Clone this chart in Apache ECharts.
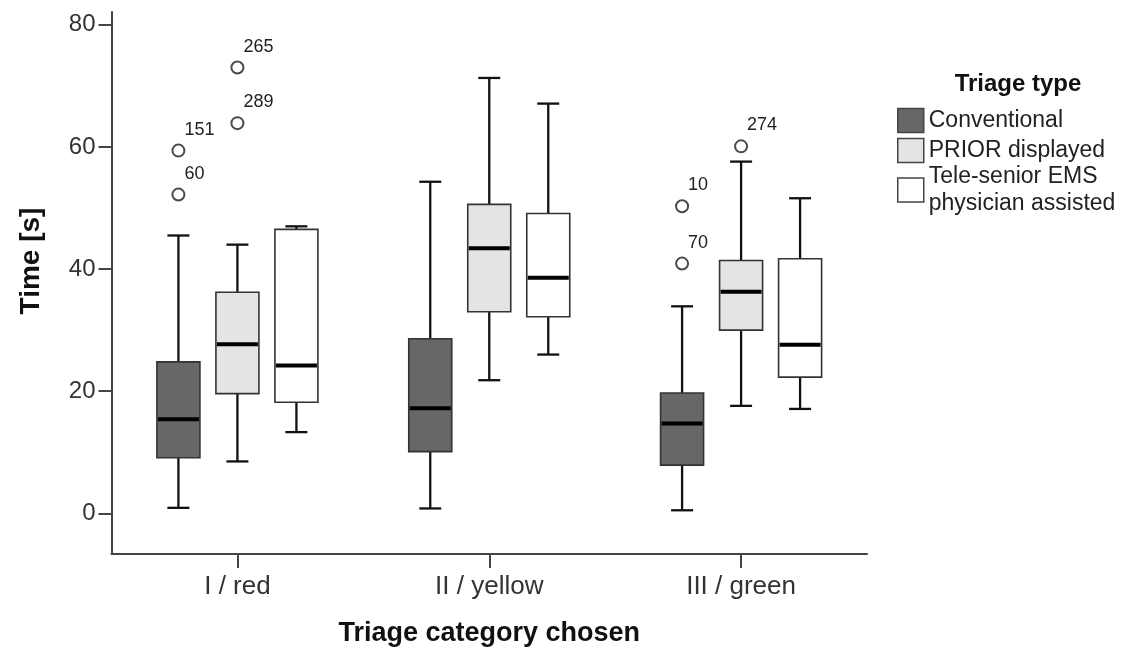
<!DOCTYPE html>
<html>
<head>
<meta charset="utf-8">
<script src="https://cdn.jsdelivr.net/npm/echarts@6/dist/echarts.min.js"></script>
<style>
html,body{margin:0;padding:0;background:#fff;}
#chart{width:1144px;height:655px;}
</style>
</head>
<body>
<div id="chart"></div>
<script>
// ---- data ----
const categories = ['I / red', 'II / yellow', 'III / green'];
const seriesNames = ['Conventional', 'PRIOR displayed', 'Tele-senior EMS physician assisted'];
// [min, Q1, median, Q3, max]
const conventional = [
  [0.9, 9.1, 15.4, 24.8, 45.5],
  [0.8, 10.1, 17.2, 28.6, 54.3],
  [0.5, 7.9, 14.7, 19.7, 33.9]
];
const prior = [
  [8.5, 19.6, 27.7, 36.2, 44.0],
  [21.8, 33.0, 43.4, 50.6, 71.3],
  [17.6, 30.0, 36.3, 41.4, 57.6]
];
const tele = [
  [13.3, 18.2, 24.2, 46.5, 47.0],
  [26.0, 32.2, 38.6, 49.1, 67.1],
  [17.1, 22.3, 27.6, 41.7, 51.6]
];
// [category index, value, case label]
const conventionalOutliers = [[0, 59.4, '151'], [0, 52.2, '60'], [2, 50.3, '10'], [2, 40.9, '70']];
const priorOutliers = [[0, 73.0, '265'], [0, 63.9, '289'], [2, 60.1, '274']];
const yTicks = [0, 20, 40, 60, 80];

// ---- styles ----
const FONT = 'Liberation Sans, Arial, sans-serif';
const fills = ['#676767', '#e4e4e4', '#ffffff'];
const offsets = [-59, 0, 59];
const BOX_W = 43, CAP_W = 22;

function boxRender(k) {
  return function (params, api) {
    const idx = api.value(0);
    const cx = api.coord([idx, 0])[0] + offsets[k];
    const y = i => api.coord([idx, api.value(i)])[1];
    const yMin = y(1), yQ1 = y(2), yMed = y(3), yQ3 = y(4), yMax = y(5);
    const hw = BOX_W / 2, cw = CAP_W / 2;
    const wl = {stroke: '#111', lineWidth: 2.3};
    return {
      type: 'group',
      children: [
        {type: 'line', shape: {x1: cx, y1: yMax, x2: cx, y2: yQ3}, style: wl},
        {type: 'line', shape: {x1: cx, y1: yQ1, x2: cx, y2: yMin}, style: wl},
        {type: 'line', shape: {x1: cx - cw, y1: yMax, x2: cx + cw, y2: yMax}, style: wl},
        {type: 'line', shape: {x1: cx - cw, y1: yMin, x2: cx + cw, y2: yMin}, style: wl},
        {type: 'rect', shape: {x: cx - hw, y: yQ3, width: 2 * hw, height: yQ1 - yQ3},
          style: {fill: fills[k], stroke: '#333', lineWidth: 1.6}},
        {type: 'line', shape: {x1: cx - hw + 1, y1: yMed, x2: cx + hw - 1, y2: yMed},
          style: {stroke: '#000', lineWidth: 4}}
      ]
    };
  };
}

function outlierRender(k, list) {
  return function (params, api) {
    const idx = api.value(0);
    const p = api.coord([idx, api.value(1)]);
    const cx = p[0] + offsets[k], cy = p[1];
    const label = list[params.dataIndex][2];
    return {
      type: 'group',
      children: [
        {type: 'circle', shape: {cx: cx, cy: cy, r: 6},
          style: {fill: '#fff', stroke: '#4a4a4a', lineWidth: 2}},
        {type: 'text', style: {text: label, x: cx + 6, y: cy - 21,
          align: 'left', verticalAlign: 'middle', textAlign: 'left', textVerticalAlign: 'middle',
          font: '18px ' + FONT, fill: '#222'}}
      ]
    };
  };
}

const boxData = [conventional, prior, tele];
const series = boxData.map((arr, k) => ({
  type: 'custom',
  name: seriesNames[k],
  renderItem: boxRender(k),
  encode: {x: 0, y: [1, 2, 3, 4, 5]},
  itemStyle: {color: fills[k], borderColor: '#444'},
  data: arr.map((d, i) => [i].concat(d)),
  z: 2
}));
series.push({
  type: 'custom', name: seriesNames[0], renderItem: outlierRender(0, conventionalOutliers),
  encode: {x: 0, y: 1}, data: conventionalOutliers.map(d => [d[0], d[1]]), z: 3
});
series.push({
  type: 'custom', name: seriesNames[1], renderItem: outlierRender(1, priorOutliers),
  encode: {x: 0, y: 1}, data: priorOutliers.map(d => [d[0], d[1]]), z: 3
});

const legendTops = [107, 137, 163];
const legends = seriesNames.map((n, k) => ({
  orient: 'vertical',
  left: 897,
  top: legendTops[k],
  padding: 0,
  itemWidth: 26,
  itemHeight: 24,
  selectedMode: false,
  textStyle: {fontFamily: FONT, fontSize: 23, color: '#222', lineHeight: 27},
  formatter: function (name) {
    return name === seriesNames[2] ? 'Tele-senior EMS\nphysician assisted' : name;
  },
  data: [{name: n, icon: 'rect', itemStyle: {color: fills[k], borderColor: '#444', borderWidth: 1.5}}]
}));

const chart = echarts.init(document.getElementById('chart'));
chart.setOption({
  backgroundColor: '#fff',
  animation: false,
  title: {
    text: 'Triage type', left: 1018, top: 72, textAlign: 'center', padding: 0,
    textStyle: {fontFamily: FONT, fontSize: 24, fontWeight: 'bold', color: '#111'}
  },
  legend: legends,
  grid: {left: 111.5, right: 1144 - 867, top: 12, bottom: 101, containLabel: false},
  xAxis: {
    type: 'category',
    data: categories,
    name: 'Triage category chosen',
    nameLocation: 'middle',
    nameGap: 66,
    nameTextStyle: {fontFamily: FONT, fontSize: 27, fontWeight: 'bold', color: '#111'},
    axisLine: {show: true, onZero: false, lineStyle: {color: '#444', width: 2}},
    axisTick: {show: true, alignWithLabel: true, length: 14, lineStyle: {color: '#444', width: 2}},
    axisLabel: {fontFamily: FONT, fontSize: 26, color: '#333', margin: 20},
    splitLine: {show: false}
  },
  yAxis: {
    type: 'value',
    min: -6.66,
    max: 82.1,
    name: 'Time [s]',
    nameLocation: 'middle',
    nameGap: 66,
    nameRotate: 90,
    nameTextStyle: {fontFamily: FONT, fontSize: 28, fontWeight: 'bold', color: '#111', padding: [0, 0, 0, 44]},
    axisLine: {show: true, onZero: false, lineStyle: {color: '#444', width: 2}},
    axisTick: {show: true, length: 13, customValues: yTicks, lineStyle: {color: '#444', width: 2}},
    axisLabel: {fontFamily: FONT, fontSize: 24, color: '#333', margin: 16, customValues: yTicks},
    splitLine: {show: false}
  },
  series: series
});
</script>
</body>
</html>
